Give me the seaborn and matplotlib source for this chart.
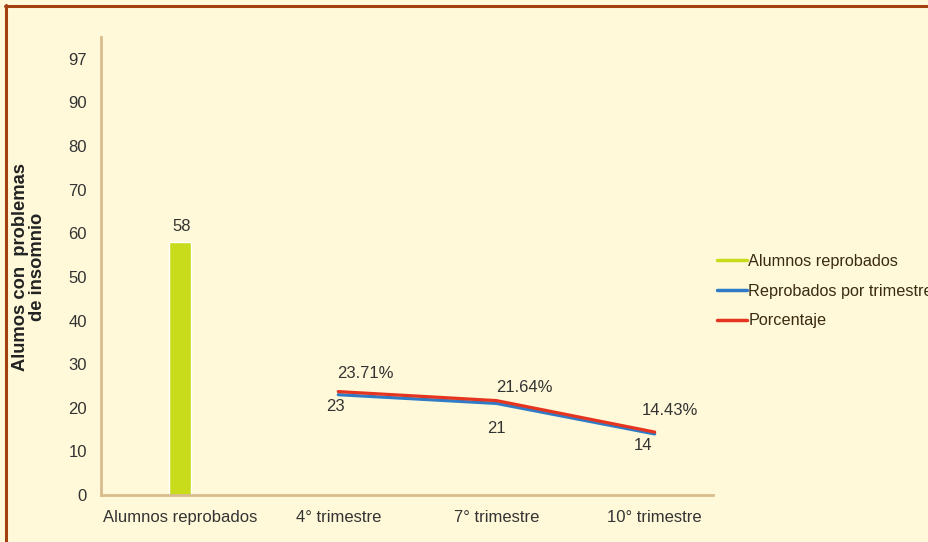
import matplotlib
matplotlib.use("Agg")
import matplotlib.pyplot as plt
from matplotlib.lines import Line2D
import seaborn as sns
import pandas as pd

# Data
categories = ["Alumnos reprobados", "4° trimestre", "7° trimestre", "10° trimestre"]
total_reprobados = [58]
reprobados_trimestre = [23, 21, 14]
porcentaje = [23.71, 21.64, 14.43]
porcentaje_labels = ["23.71%", "21.64%", "14.43%"]
ytick_values = [0, 10, 20, 30, 40, 50, 60, 70, 80, 90, 100]
ytick_labels = ["0", "10", "20", "30", "40", "50", "60", "70", "80", "90", "97"]

BG = "#FFF9D9"
SPINE = "#D8BC8C"
GREEN = "#C9DC1C"
BLUE = "#2F7BC6"
RED = "#E5341F"
TEXT = "#333333"
FS = 12

sns.set_theme(style="white")
plt.rcParams["font.family"] = ["Liberation Sans", "DejaVu Sans"]

fig = plt.figure(figsize=(9.29, 5.42), dpi=100, facecolor=BG)
ax = fig.add_axes([0.1087, 0.0867, 0.659, 0.845])
ax.set_facecolor(BG)

# Bar: total failing students
bar_df = pd.DataFrame({"cat": categories[:1], "val": total_reprobados})
sns.barplot(data=bar_df, x="cat", y="val", order=categories, color=GREEN,
            width=0.135, saturation=1, ax=ax)
ax.annotate(str(total_reprobados[0]), (0, total_reprobados[0]),
            xytext=(2, 8), textcoords="offset pixels", ha="center", va="bottom",
            fontsize=FS, color=TEXT)

# Lines: per trimester and percentage
line_df = pd.DataFrame({
    "x": [1, 2, 3],
    "reprobados": reprobados_trimestre,
    "porcentaje": porcentaje,
})
sns.lineplot(data=line_df, x="x", y="reprobados", color=BLUE, linewidth=2.3, ax=ax)
sns.lineplot(data=line_df, x="x", y="porcentaje", color=RED, linewidth=2.3, ax=ax)

red_offsets = [(27, 18), (28, 13), (15, 22)]
blue_offsets = [(-3, -12), (0, -25), (-12, -12)]
for i in range(3):
    ax.annotate(porcentaje_labels[i], (i + 1, porcentaje[i]), xytext=red_offsets[i],
                textcoords="offset pixels", ha="center", va="center",
                fontsize=FS, color=TEXT)
    ax.annotate(str(reprobados_trimestre[i]), (i + 1, reprobados_trimestre[i]),
                xytext=blue_offsets[i], textcoords="offset pixels",
                ha="center", va="center", fontsize=FS, color=TEXT)

ax.set_xlim(-0.5, 3.37)
ax.set_ylim(0, 105)
ax.set_xticks(range(len(categories)))
ax.set_xticklabels(categories, fontsize=FS, color=TEXT)
ax.set_yticks(ytick_values)
ax.set_yticklabels(ytick_labels, fontsize=FS, color=TEXT)
ax.tick_params(axis="x", length=0, pad=11)
ax.tick_params(axis="y", length=0, pad=10)
ax.set_xlabel("")
ax.set_ylabel("")
fig.text(29 / 929, 1 - 267 / 542, "Alumos con  problemas\nde insomnio", rotation=90,
         ha="center", va="center", multialignment="center", fontsize=13.2,
         fontweight="bold", color="#222222", linespacing=1.0)

for side in ["top", "right"]:
    ax.spines[side].set_visible(False)
for side in ["left", "bottom"]:
    ax.spines[side].set_color(SPINE)
    ax.spines[side].set_linewidth(2)

handles = [
    Line2D([], [], color=GREEN, linewidth=2.5),
    Line2D([], [], color=BLUE, linewidth=2.5),
    Line2D([], [], color=RED, linewidth=2.5),
]
leg = ax.legend(handles, ["Alumnos reprobados", "Reprobados por trimestre", "Porcentaje"],
                loc="center left", bbox_to_anchor=(0.995, 0.445), frameon=False,
                fontsize=11.7, handlelength=1.85, handletextpad=0.1,
                labelspacing=0.9, borderaxespad=0)
for t in leg.get_texts():
    t.set_color("#3A2A12")

# Outer frame edges
fig.add_artist(Line2D([5 / 929, 1], [1 - 6 / 542, 1 - 6 / 542], transform=fig.transFigure,
                      color="#A3400F", linewidth=2.2))
fig.add_artist(Line2D([6 / 929, 6 / 929], [0, 1 - 5 / 542], transform=fig.transFigure,
                      color="#A3400F", linewidth=2.2))

fig.savefig("out.png", dpi=100, facecolor=BG)
